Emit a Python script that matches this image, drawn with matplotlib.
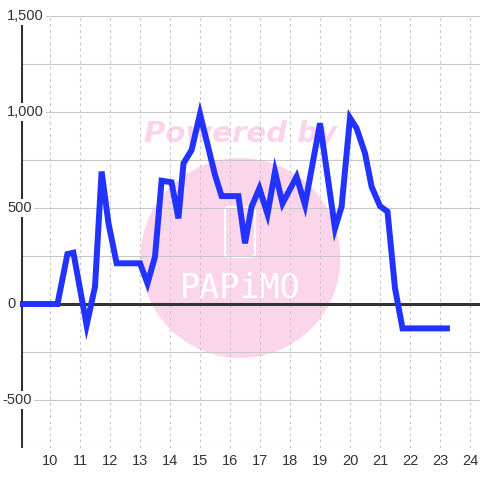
import matplotlib
matplotlib.use("Agg")
import matplotlib.pyplot as plt
from matplotlib import transforms
from matplotlib.patches import Circle, FancyBboxPatch

# time of day (hours) and value
hours = [9.0, 10.25, 10.58, 10.78, 11.22, 11.5, 11.72, 11.95, 12.22, 13.0,
         13.25, 13.5, 13.72, 14.05, 14.28, 14.45, 14.72, 15.0, 15.5, 15.72,
         16.28, 16.5, 16.72, 16.98, 17.25, 17.5, 17.75, 18.22, 18.5, 19.0,
         19.5, 19.72, 20.0, 20.22, 20.5, 20.72, 21.0, 21.25, 21.5, 21.75, 23.33]
values = [0, 0, 260, 267, -110, 90, 690, 420, 212, 212,
          108, 246, 642, 634, 446, 733, 802, 990, 672, 562,
          562, 316, 507, 602, 469, 689, 524, 663, 516, 941,
          394, 507, 969, 915, 785, 611, 510, 481, 82, -127, -127]

x_ticks = list(range(10, 25))
y_ticks = [-500, 0, 500, 1000, 1500]
y_tick_labels = ['-500', '0', '500', '1,000', '1,500']
y_grid = [-750, -500, -250, 0, 250, 500, 750, 1000, 1250, 1500]

plt.rcParams['font.family'] = ['Liberation Sans', 'DejaVu Sans']

fig = plt.figure(figsize=(4.8, 4.8), dpi=100)
fig.patch.set_facecolor('white')
ax = fig.add_axes([21 / 480, 32 / 480, 459 / 480, 432 / 480])
ax.set_xlim(9.0333, 24.3333)
ax.set_ylim(-750, 1500)
for s in ax.spines.values():
    s.set_visible(False)
ax.set_xticks([])
ax.set_yticks([])

# watermark
circ = Circle((240.5 / 480, 1 - 258 / 480), 100 / 480, transform=fig.transFigure,
              facecolor='#fbd6ea', edgecolor='none', zorder=0)
ax.add_patch(circ)
box = FancyBboxPatch((225 / 480, 1 - 257 / 480), 30 / 480, 50 / 480,
                     boxstyle='round,pad=0,rounding_size=0.008',
                     transform=fig.transFigure, facecolor='none',
                     edgecolor='white', lw=1.5, zorder=0.5)
ax.add_patch(box)
ax.text(240 / 480, 1 - 288 / 480, 'PAPiMO', transform=fig.transFigure,
        ha='center', va='center', color='white', fontsize=24,
        family='DejaVu Sans Mono', zorder=0.5)
ax.text(241 / 480, 1 - 134 / 480, 'Powered by', transform=fig.transFigure,
        ha='center', va='center', color='#fad4ea', fontsize=21,
        fontweight='bold', fontstyle='italic', family='DejaVu Sans', zorder=0.5)

# grid
for y in y_grid:
    ax.axhline(y, color='#c8c8c8', lw=0.8, zorder=1)
for x in x_ticks:
    ax.axvline(x, color='#c8c8c8', lw=0.8, ls=(0, (2.5, 3)), zorder=1)

ax.axhline(0, color='#333333', lw=2.2, zorder=2)
ax.axvline(9.0333, color='#333333', lw=2.2, zorder=2)

ax.plot(hours, values, color='#2233ff', lw=4.3, solid_joinstyle='miter',
        solid_capstyle='butt', zorder=3, clip_on=False)

# tick labels
ytr = transforms.blended_transform_factory(fig.transFigure, ax.transData)
for v, lab in zip(y_ticks, y_tick_labels):
    x0 = 2 if lab.startswith('-') else 7
    fig.text(x0 / 480, v, lab, transform=ytr, ha='left', va='center',
             fontsize=10.5, color='#333333',
             bbox=dict(facecolor='white', edgecolor='none', pad=1.5))

xtr = transforms.blended_transform_factory(ax.transData, fig.transFigure)
for x in x_ticks:
    ax.text(x, 1 - 461 / 480, str(x), transform=xtr, ha='center', va='center',
            fontsize=10.5, color='#333333', clip_on=False)

fig.savefig('out.png', dpi=100)
